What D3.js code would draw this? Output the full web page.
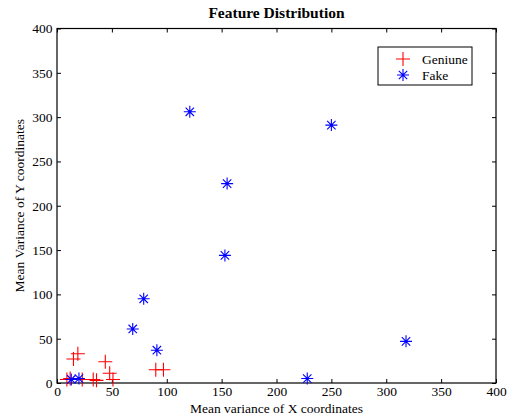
<!DOCTYPE html>
<html>
<head>
<meta charset="utf-8">
<script src="https://cdn.jsdelivr.net/npm/d3@7"></script>
<style>
  body { margin: 0; background: #fff; }
  text { font-family: "Liberation Serif", "Times New Roman", serif; fill: #000; }
</style>
</head>
<body>
<div id="chart"></div>
<script>
// data
const genuineX = [9, 12, 15, 19, 23, 33, 36, 44, 48, 51, 90, 97];
const genuineY = [4, 5, 27, 33, 4, 4, 3, 24, 11, 4, 15, 15];
const fakeX = [13, 20, 69, 79, 91, 121, 153, 155, 228, 250, 318];
const fakeY = [4, 5, 61, 95, 37, 306, 144, 225, 5, 291, 47];
const xTicks = [0, 50, 100, 150, 200, 250, 300, 350, 400];
const yTicks = [0, 50, 100, 150, 200, 250, 300, 350, 400];

const W = 509, H = 419;
const margin = { top: 28.5, right: 13, bottom: 36, left: 57 };
const width = W - margin.left - margin.right;
const height = H - margin.top - margin.bottom;
const serif = "'Liberation Serif', 'Times New Roman', serif";

const svg = d3.select("#chart").append("svg")
  .attr("width", W).attr("height", H);

const g = svg.append("g")
  .attr("transform", `translate(${margin.left},${margin.top})`);

const x = d3.scaleLinear().domain([0, 400]).range([0, width]);
const y = d3.scaleLinear().domain([0, 400]).range([height, 0]);

// axes, MATLAB style: inward ticks on all four sides
function styleAxis(sel) {
  sel.attr("font-family", serif).attr("font-size", 13.5);
  sel.select(".domain").remove();
  sel.selectAll("line").attr("stroke", "#000");
  sel.selectAll("text").attr("fill", "#000");
}
g.append("g").attr("transform", `translate(0,${height})`)
  .call(d3.axisBottom(x).tickValues(xTicks).tickSizeInner(-4).tickPadding(3))
  .call(styleAxis);
g.append("g")
  .call(d3.axisTop(x).tickValues(xTicks).tickSizeInner(-4).tickFormat(""))
  .call(styleAxis);
g.append("g")
  .call(d3.axisLeft(y).tickValues(yTicks).tickSizeInner(-4).tickPadding(4.5))
  .call(styleAxis);
g.append("g").attr("transform", `translate(${width},0)`)
  .call(d3.axisRight(y).tickValues(yTicks).tickSizeInner(-4).tickFormat(""))
  .call(styleAxis);

g.append("rect")
  .attr("width", width).attr("height", height)
  .attr("fill", "none").attr("stroke", "#000").attr("stroke-width", 1.2);

// markers
const crossPath = "M-7,0H7M0,-7V7";
const starPath = "M-6,0H6M0,-6V6M-4.2,-4.2L4.2,4.2M-4.2,4.2L4.2,-4.2";

const genuine = genuineX.map((d, i) => ({ x: d, y: genuineY[i] }));
const fake = fakeX.map((d, i) => ({ x: d, y: fakeY[i] }));

g.selectAll(".gen").data(genuine).join("path")
  .attr("class", "gen")
  .attr("transform", d => `translate(${x(d.x)},${y(d.y)})`)
  .attr("d", crossPath)
  .attr("stroke", "#ff0000").attr("stroke-width", 1.1).attr("fill", "none");

g.selectAll(".fake").data(fake).join("path")
  .attr("class", "fake")
  .attr("transform", d => `translate(${x(d.x)},${y(d.y)})`)
  .attr("d", starPath)
  .attr("stroke", "#0000ff").attr("stroke-width", 1.1).attr("fill", "none");

// title and labels
svg.append("text")
  .attr("x", margin.left + width / 2).attr("y", 17.5)
  .attr("text-anchor", "middle")
  .style("font-size", "15.5px").style("font-weight", "bold")
  .text("Feature Distribution");

svg.append("text")
  .attr("x", margin.left + width / 2).attr("y", 413)
  .attr("text-anchor", "middle")
  .style("font-size", "13.5px")
  .text("Mean variance of X coordinates");

svg.append("text")
  .attr("transform", `translate(23.5,${margin.top + height / 2}) rotate(-90)`)
  .attr("text-anchor", "middle")
  .style("font-size", "13.5px")
  .text("Mean Variance of Y coordinates");

// legend
const legend = svg.append("g").attr("transform", "translate(378,47)");
legend.append("rect")
  .attr("width", 94).attr("height", 38)
  .attr("fill", "#fff").attr("stroke", "#000").attr("stroke-width", 1);
const items = [
  { name: "Geniune", d: crossPath, c: "#ff0000" },
  { name: "Fake", d: starPath, c: "#0000ff" }
];
items.forEach((it, i) => {
  legend.append("path")
    .attr("transform", `translate(25,${12 + i * 16})`)
    .attr("d", it.d).attr("stroke", it.c).attr("stroke-width", 1.1).attr("fill", "none");
  legend.append("text")
    .attr("x", 44).attr("y", 16.5 + i * 16)
    .style("font-size", "13.5px")
    .text(it.name);
});
</script>
</body>
</html>
